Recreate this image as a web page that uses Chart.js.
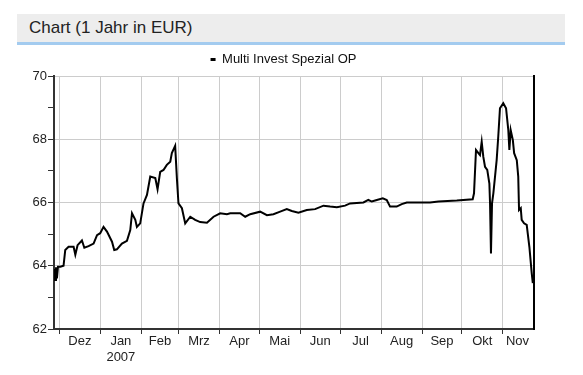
<!DOCTYPE html>
<html>
<head>
<meta charset="utf-8">
<script src="https://cdn.jsdelivr.net/npm/chart.js@4/dist/chart.umd.min.js"></script>
<style>
  body { margin: 0; background: #fff; font-family: "Liberation Sans", Arial, sans-serif; }
  #head {
    position: absolute; left: 17px; top: 14px; width: 548px; height: 28px;
    background: #ededed; border-bottom: 3px solid #a3cbef;
    font-size: 17px; color: #222; line-height: 28px;
  }
  #head span { margin-left: 12px; }
  #wrap { position: absolute; left: 0; top: 46px; width: 567px; height: 329px; }
</style>
</head>
<body>
<div id="head"><span>Chart (1 Jahr in EUR)</span></div>
<div id="wrap"><canvas id="Kurs"></canvas></div>
<script>
// x = days since 1 Dec 2006
var days = [-3.8, -3.2, -2.5, -1.8, -1.0, 0.8, 3.2, 4.5, 7, 10.8, 12.1, 13.8, 17.1, 18.9, 22.1, 25.9, 28.5, 30.9, 33.4, 36,
    39.8, 41.5, 43.5, 47.3, 51.1, 53.6, 54.9, 57.4, 58.6, 61.1, 63.6, 66.2, 68.7, 72.5, 74.2, 76.2, 78.7, 81.2, 83.8, 85,
    87.5, 88.8, 90, 92.6, 95.1, 98.9, 102.6, 106.4, 111.5, 116.5, 121.5, 126.6, 129.1, 136.6, 140.4, 144.2, 151.7, 156.8, 161.7, 166.8,
    171.8, 175.6, 180.6, 186.9, 193.2, 199.5, 204.5, 209.6, 215.8, 219.6, 229.7, 233.4, 236, 239.8, 244.3, 247.3, 249.8, 254.8, 258.6, 262.4,
    280, 286.3, 300.2, 312.2, 313.2, 314.7, 316.5, 317.7, 319, 320.2, 321.5, 323.2, 324.8, 325.3, 326, 326.8, 327.8, 330.3, 331.5, 332.8,
    335.3, 337.4, 339.1, 339.9, 340.9, 342.5, 343.5, 345.5, 346.6, 347.2, 348.5, 349.2, 351, 353, 355, 356.8, 357.6];
var prices = [63.9, 63.55, 63.95, 63.6, 63.97, 63.97, 64.0, 64.5, 64.6, 64.6, 64.35, 64.65, 64.8, 64.57, 64.62, 64.7, 64.97, 65.03, 65.23, 65.08,
    64.76, 64.5, 64.52, 64.7, 64.79, 65.13, 65.66, 65.45, 65.23, 65.34, 65.97, 66.24, 66.82, 66.77, 66.42, 66.97, 67.03, 67.19, 67.29, 67.56,
    67.79, 66.77, 65.97, 65.82, 65.34, 65.55, 65.45, 65.38, 65.36, 65.55, 65.66, 65.63, 65.66, 65.66, 65.55, 65.63, 65.71, 65.6, 65.63, 65.71,
    65.79, 65.73, 65.68, 65.76, 65.79, 65.9, 65.87, 65.85, 65.9, 65.97, 66.0, 66.08, 66.03, 66.08, 66.13, 66.08, 65.87, 65.87, 65.95, 66.0,
    66.0, 66.03, 66.06, 66.1, 66.29, 67.66, 67.56, 67.5, 67.92, 67.45, 67.13, 67.03, 66.6, 65.97, 64.39, 65.97, 66.29, 67.34, 68.08, 68.98,
    69.14, 68.98, 68.29, 67.66, 68.29, 67.98, 67.56, 67.34, 66.82, 65.76, 65.82, 65.45, 65.34, 65.29, 64.6, 63.76, 63.45];

var monthStarts = [0, 31, 62, 90, 121, 151, 182, 212, 243, 274, 304, 335];
var monthMids = [15.5, 46.5, 76, 105.5, 136, 166.5, 197, 227.5, 258.5, 289, 319.5, 346];
var monthLabels = ["Dez", ["Jan", "2007"], "Feb", "Mrz", "Apr", "Mai", "Jun", "Jul", "Aug", "Sep", "Okt", "Nov"];

var xMin = -4, xMax = 358.5;
var font = { family: '"Liberation Sans", Arial, sans-serif', size: 13 };

new Chart(document.getElementById('Kurs'), {
    type: 'line',
    data: {
        datasets: [
            {
                label: "Multi Invest Spezial OP",
                data: days.map(function (d, i) { return { x: d, y: prices[i] }; }),
                borderColor: "#000",
                backgroundColor: "#000",
                borderWidth: 2,
                pointRadius: 0,
                tension: 0
            }
        ]
    },
    options: {
        responsive: true,
        maintainAspectRatio: false,
        animation: false,
        layout: { padding: { top: 2, right: 0, bottom: 0, left: 0 } },
        plugins: {
            legend: {
                display: true,
                labels: {
                    font: font,
                    color: '#111',
                    boxWidth: 5,
                    boxHeight: 3,
                    padding: 5,
                    generateLabels: function (chart) {
                        var items = Chart.defaults.plugins.legend.labels.generateLabels(chart);
                        items.forEach(function (it) { it.lineWidth = 0; });
                        return items;
                    }
                }
            },
            tooltip: { enabled: false }
        },
        scales: {
            x: {
                type: 'linear',
                position: 'bottom',
                min: xMin,
                max: xMax,
                afterBuildTicks: function (s) { s.ticks = monthStarts.map(function (v) { return { value: v }; }); },
                afterFit: function (s) { s.height = 5; },
                ticks: { display: false },
                grid: { color: '#cccccc', tickColor: '#333', tickLength: 5, lineWidth: 1 },
                border: { color: '#333', width: 2 }
            },
            xl: {
                type: 'linear',
                position: 'bottom',
                min: xMin,
                max: xMax,
                afterBuildTicks: function (s) { s.ticks = monthMids.map(function (v) { return { value: v }; }); },
                afterFit: function (s) { s.height = 41; },
                ticks: {
                    autoSkip: false,
                    maxRotation: 0,
                    padding: -8,
                    font: font,
                    color: '#222',
                    callback: function (v, i) { return monthLabels[i]; }
                },
                grid: { display: false },
                border: { display: false }
            },
            y: {
                min: 62,
                max: 70,
                afterBuildTicks: function (s) {
                    var t = [];
                    for (var v = 62; v <= 70; v++) t.push({ value: v });
                    s.ticks = t;
                },
                afterFit: function (s) { s.width = 54; },
                ticks: {
                    font: font,
                    color: '#222',
                    padding: 1,
                    callback: function (v) { return v % 2 === 0 ? v : ''; }
                },
                grid: {
                    color: function (c) { return c.tick && c.tick.value % 2 === 0 ? '#cccccc' : 'rgba(0,0,0,0)'; },
                    tickColor: '#333',
                    tickLength: 6
                },
                border: { color: '#333', width: 2 }
            },
            y2: {
                position: 'right',
                min: 62,
                max: 70,
                afterFit: function (s) { s.width = 33; },
                ticks: { display: false },
                grid: { display: false },
                border: { color: '#000', width: 2 }
            }
        }
    }
});
</script>
</body>
</html>
